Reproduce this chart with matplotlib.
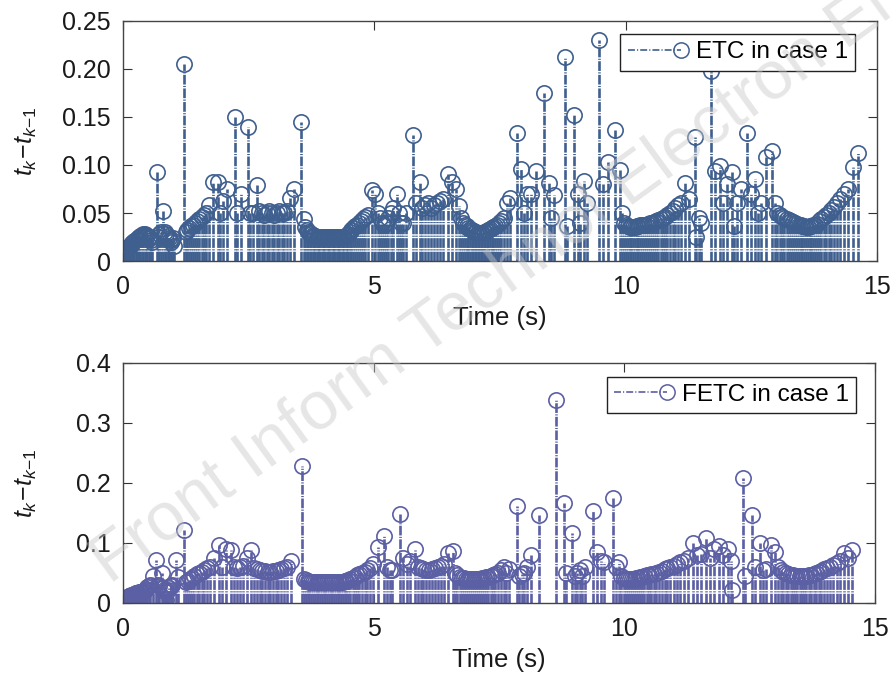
import numpy as np
import matplotlib
matplotlib.use('Agg')
import matplotlib.pyplot as plt
from matplotlib.lines import Line2D
from matplotlib.legend_handler import HandlerBase

plt.rcParams['font.family'] = ['Liberation Sans', 'DejaVu Sans']
plt.rcParams['mathtext.fontset'] = 'custom'
plt.rcParams['mathtext.rm'] = 'Liberation Sans'
plt.rcParams['mathtext.it'] = 'Liberation Sans:italic'
plt.rcParams['lines.scale_dashes'] = False

# ---------------- data: inter-event intervals t_k - t_{k-1} (s) ----------------
etc_intervals = [
    0.003, 0.004, 0.005, 0.006, 0.007, 0.008, 0.009, 0.010, 0.011, 0.012, 0.013,
    0.014, 0.015, 0.016, 0.017, 0.018, 0.019, 0.020, 0.021, 0.022, 0.023, 0.024,
    0.025, 0.026, 0.027, 0.028, 0.028, 0.027, 0.026, 0.025, 0.024, 0.022, 0.020,
    0.093, 0.025, 0.028, 0.030, 0.052,
    0.030, 0.028, 0.026, 0.024, 0.022, 0.020, 0.022, 0.024, 0.016, 0.205,
    0.030, 0.032, 0.034, 0.036, 0.038, 0.040, 0.042, 0.044, 0.046, 0.048, 0.050, 0.058,
    0.082, 0.082, 0.050, 0.063, 0.075, 0.150, 0.050, 0.070, 0.140, 0.050, 0.050, 0.079,
    0.052, 0.050, 0.048, 0.050, 0.052, 0.050, 0.048, 0.050, 0.052, 0.050, 0.050, 0.052,
    0.066, 0.075, 0.145, 0.044,
    0.035, 0.032, 0.030, 0.029, 0.028, 0.027, 0.026, 0.026, 0.025, 0.025,
    0.025, 0.025, 0.025, 0.025, 0.025, 0.025, 0.025, 0.025, 0.025, 0.025, 0.025,
    0.025, 0.025, 0.025, 0.025, 0.025, 0.025, 0.025, 0.025, 0.025, 0.025,
    0.026, 0.027, 0.028, 0.030, 0.032, 0.034, 0.036, 0.038, 0.040, 0.042, 0.044,
    0.046, 0.048, 0.074, 0.070,
    0.050, 0.045, 0.040, 0.038, 0.040, 0.045, 0.050, 0.055, 0.070,
    0.050, 0.040, 0.040, 0.050, 0.131, 0.060, 0.082,
    0.055, 0.058, 0.060, 0.055, 0.058, 0.060, 0.062, 0.065,
    0.091, 0.082, 0.075, 0.057,
    0.045, 0.040, 0.038, 0.036, 0.034, 0.033, 0.032, 0.031, 0.030, 0.030, 0.029,
    0.029, 0.029, 0.029, 0.030, 0.030, 0.031, 0.032, 0.033, 0.034, 0.035, 0.036,
    0.038, 0.040, 0.042, 0.045, 0.060, 0.066, 0.133,
    0.096, 0.050, 0.070, 0.070, 0.094, 0.175, 0.081, 0.045, 0.069, 0.213, 0.036,
    0.152, 0.070, 0.040, 0.083, 0.060, 0.230, 0.080, 0.103, 0.136, 0.095, 0.050,
    0.040, 0.038, 0.036, 0.035, 0.035, 0.035, 0.035, 0.036, 0.036, 0.037, 0.037,
    0.038, 0.038, 0.039, 0.040, 0.040, 0.041, 0.042, 0.043, 0.044, 0.045, 0.046,
    0.048, 0.050, 0.052, 0.055, 0.058, 0.060,
    0.081, 0.065, 0.129, 0.025, 0.045, 0.040, 0.198, 0.094, 0.099, 0.060, 0.080,
    0.093, 0.036, 0.060, 0.075, 0.133, 0.070, 0.085, 0.050, 0.060, 0.108, 0.115, 0.060,
    0.050, 0.048, 0.046, 0.045, 0.044, 0.043, 0.042, 0.041, 0.040, 0.039, 0.038,
    0.037, 0.036, 0.036, 0.035, 0.035, 0.036, 0.036, 0.037, 0.038, 0.039, 0.042,
    0.044, 0.046, 0.048, 0.050, 0.053, 0.056, 0.060, 0.065, 0.070, 0.075,
    0.098, 0.112,
]

fetc_intervals = [
    0.003, 0.003, 0.004, 0.004, 0.005, 0.005, 0.006, 0.006, 0.007, 0.007, 0.008,
    0.008, 0.009, 0.009, 0.010, 0.010, 0.011, 0.011, 0.012, 0.012, 0.013, 0.013,
    0.014, 0.014, 0.015, 0.015, 0.016, 0.016, 0.017, 0.017, 0.018, 0.018, 0.019,
    0.019, 0.020, 0.020, 0.022, 0.024, 0.026, 0.028, 0.030,
    0.045, 0.072, 0.030, 0.028, 0.050,
    0.025, 0.022, 0.020, 0.018, 0.005, 0.020, 0.022, 0.025, 0.028, 0.030,
    0.071, 0.043, 0.122,
    0.035, 0.037, 0.040, 0.042, 0.045, 0.048, 0.050, 0.052, 0.055, 0.058,
    0.060, 0.075, 0.097, 0.060, 0.090, 0.088, 0.060, 0.058, 0.060, 0.062, 0.075, 0.089,
    0.058, 0.056, 0.055, 0.054, 0.053, 0.052, 0.052, 0.053, 0.054, 0.055, 0.056,
    0.058, 0.060, 0.070, 0.229,
    0.040, 0.038, 0.036,
    0.035, 0.035, 0.035, 0.035, 0.035, 0.035, 0.035, 0.035, 0.035, 0.035,
    0.035, 0.035, 0.035, 0.035, 0.035, 0.035, 0.035, 0.035, 0.035, 0.035,
    0.036, 0.037, 0.038, 0.040, 0.042, 0.044, 0.046, 0.048, 0.050, 0.052, 0.055,
    0.058, 0.065, 0.094, 0.111, 0.060, 0.055, 0.055, 0.149, 0.075, 0.065, 0.070, 0.090,
    0.060, 0.058, 0.056, 0.055, 0.055, 0.056, 0.058, 0.060, 0.062, 0.065,
    0.084, 0.086,
    0.050, 0.046, 0.044, 0.042, 0.041, 0.040, 0.040, 0.040, 0.040, 0.040, 0.040,
    0.040, 0.040, 0.041, 0.042, 0.043, 0.044, 0.045, 0.046, 0.048, 0.050, 0.055,
    0.060, 0.050, 0.057, 0.161,
    0.045, 0.048, 0.050, 0.060, 0.080, 0.146, 0.339, 0.167, 0.050, 0.117,
    0.045, 0.050, 0.055, 0.045, 0.060, 0.154, 0.085, 0.070, 0.069, 0.175, 0.060, 0.068,
    0.045, 0.042, 0.040, 0.040, 0.040, 0.040, 0.040, 0.041, 0.042, 0.043, 0.044,
    0.045, 0.046, 0.047, 0.048, 0.049, 0.050, 0.052, 0.054, 0.056, 0.058, 0.060,
    0.062, 0.065, 0.068, 0.070, 0.075,
    0.100, 0.080, 0.082, 0.108, 0.075, 0.090, 0.095, 0.080, 0.090, 0.070, 0.022,
    0.208, 0.045, 0.147, 0.060, 0.100, 0.055, 0.056, 0.097, 0.085,
    0.060, 0.055, 0.052, 0.050, 0.048, 0.047, 0.046, 0.045, 0.045, 0.045, 0.045,
    0.045, 0.045, 0.046, 0.047, 0.048, 0.050, 0.052, 0.054, 0.056, 0.058, 0.060,
    0.063, 0.066, 0.070, 0.083, 0.075, 0.089,
]

x_ticks = [0, 5, 10, 15]
x_ticklabels = ['0', '5', '10', '15']
etc_yticks = [0, 0.05, 0.10, 0.15, 0.20, 0.25]
etc_yticklabels = ['0', '0.05', '0.10', '0.15', '0.20', '0.25']
fetc_yticks = [0, 0.1, 0.2, 0.3, 0.4]
fetc_yticklabels = ['0', '0.1', '0.2', '0.3', '0.4']
series_labels = ['ETC in case 1', 'FETC in case 1']
series_colors = ['#3f5f8f', '#5b5fa3']

DASH = (0, (7.0, 1.0, 0.8, 1.0))
STEM_LW = 1.9
MS = 11


class StemLegendHandler(HandlerBase):
    def create_artists(self, legend, orig_handle, xdescent, ydescent,
                       width, height, fontsize, trans):
        color = orig_handle.get_color()
        y = height / 2.0 - ydescent
        x0 = -xdescent
        xm = width - xdescent - MS / 2.0
        line = Line2D([x0, xm], [y, y], color=color, lw=1.2,
                      linestyle=(0, (5.0, 1.5, 0.8, 1.5)))
        mk = Line2D([xm], [y], marker='o', ms=MS, mfc='none', mec=color,
                    mew=1.1, linestyle='none')
        line.set_transform(trans)
        mk.set_transform(trans)
        return [line, mk]


fig = plt.figure(figsize=(8.93, 6.75), dpi=100)
ax1 = fig.add_axes([123 / 893, 1 - 261 / 675, 754 / 893, 240 / 675])
ax2 = fig.add_axes([123 / 893, 1 - 603 / 675, 752 / 893, 240 / 675])


def draw(ax, intervals, color, label, yticks, ylabels, ylim, anchor):
    v = np.asarray(intervals, dtype=float)
    t = np.cumsum(v)
    markerline, stemlines, baseline = ax.stem(t, v, basefmt=' ')
    stemlines.set_color(color)
    stemlines.set_linewidth(STEM_LW)
    stemlines.set_linestyle(DASH)
    markerline.set_marker('o')
    markerline.set_markerfacecolor('none')
    markerline.set_markeredgecolor(color)
    markerline.set_markersize(MS)
    markerline.set_markeredgewidth(1.2)
    markerline.set_linestyle('none')
    baseline.set_visible(False)

    ax.set_xlim(0, 15)
    ax.set_ylim(*ylim)
    ax.set_xticks(x_ticks)
    ax.set_xticklabels(x_ticklabels)
    ax.set_yticks(yticks)
    ax.set_yticklabels(ylabels)
    ax.tick_params(direction='in', length=6.5, width=0.8, top=True, right=True,
                   labelsize=18, color='#333333', labelcolor='#1a1a1a')
    ax.tick_params(axis='y', pad=9)
    ax.tick_params(axis='x', pad=10)
    for s in ax.spines.values():
        s.set_color('#444444')
        s.set_linewidth(1.0)
    ax.set_xlabel('Time (s)', fontsize=18.5, labelpad=5, color='#1a1a1a')
    ax.set_ylabel(r'$t_k\!-\!t_{k{-}1}$', fontsize=18, color='#1a1a1a')
    ax.yaxis.set_label_coords(-0.112, 0.5)

    proxy = Line2D([], [], color=color)
    leg = ax.legend(handles=[proxy], labels=[label],
                    handler_map={Line2D: StemLegendHandler()},
                    loc='upper right', bbox_to_anchor=anchor, borderaxespad=0,
                    fancybox=False, edgecolor='#222222', framealpha=1,
                    fontsize=17.5, handlelength=2.5, handletextpad=0.3,
                    borderpad=0.3)
    leg.get_frame().set_linewidth(1.0)


draw(ax1, etc_intervals, series_colors[0], series_labels[0],
     etc_yticks, etc_yticklabels, (0, 0.25), (0.971, 0.946))
draw(ax2, fetc_intervals, series_colors[1], series_labels[1],
     fetc_yticks, fetc_yticklabels, (0, 0.4), (0.975, 0.943))

fig.text(110 / 893, 1 - 585 / 675, 'Front Inform Technol Electron Eng',
         rotation=36, rotation_mode='anchor', ha='left', va='baseline',
         fontsize=49, color='#c8c8c8', alpha=0.45, zorder=10)

fig.savefig('out.png', dpi=100)
